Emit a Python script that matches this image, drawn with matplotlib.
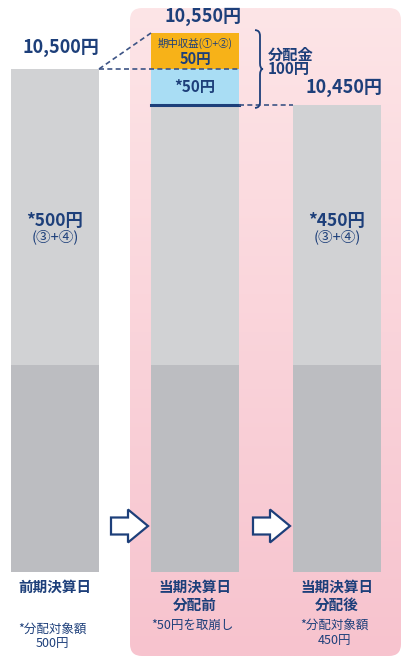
import numpy as np
import matplotlib
matplotlib.use("Agg")
import matplotlib.pyplot as plt
from matplotlib.patches import FancyBboxPatch, FancyArrow, PathPatch
from matplotlib.path import Path

plt.rcParams['font.family'] = ['Noto Sans CJK JP', 'DejaVu Sans']

# data
nav = [10500, 10550, 10450]          # 基準価額
nav_labels = ["10,500円", "10,550円", "10,450円"]
income = 50                           # 期中収益
drawdown = 50                         # 取崩し
distributable = [500, None, 450]
bottom_titles = ["前期決算日", "当期決算日\n分配前", "当期決算日\n分配後"]
bottom_notes = ["*分配対象額\n500円", "*50円を取崩し", "*分配対象額\n450円"]

navy = "#1d3f7a"
light_gray = "#d1d2d4"
dark_gray = "#bcbdc1"
orange = "#f7b218"
blue = "#a9ddf4"

W, H = 403, 657
fig = plt.figure(figsize=(W / 100, H / 100), dpi=100)

# background axes in pixel units
bg = fig.add_axes([0, 0, 1, 1])
bg.set_xlim(0, W)
bg.set_ylim(H, 0)
bg.axis("off")

box = FancyBboxPatch((136, 14), 259, 636, boxstyle="round,pad=6,rounding_size=12",
                     fc="none", ec="none")
bg.add_patch(box)
grad = np.linspace(0, 1, 256).reshape(-1, 1)
top_c = np.array([253, 229, 231]) / 255
bot_c = np.array([247, 195, 206]) / 255
img = top_c + (bot_c - top_c) * grad[..., None]
im = bg.imshow(img, extent=[130, 401, 656, 8], aspect="auto", zorder=0)
im.set_clip_path(box)

# main axes: x in pixels, y in yen
ax = fig.add_axes([0, 0, 1, 1], facecolor="none")
px_per_yen = 0.72
y_top = nav[1] + 33 / px_per_yen
y_bot = y_top - H / px_per_yen
ax.set_xlim(0, W)
ax.set_ylim(y_bot, y_top)
ax.axis("off")

xs = [55, 195, 337]
bw = 88
base = 9801
split = 10089

after = nav[1] - income - drawdown
gray_tops = [nav[0], after, nav[2]]
for x, t in zip(xs, gray_tops):
    ax.bar(x, split - base, bottom=base, width=bw, color=dark_gray, zorder=2)
    ax.bar(x, t - split, bottom=split, width=bw, color=light_gray, zorder=2)

# 分配前: 取崩し + 期中収益
ax.bar(xs[1], drawdown, bottom=after, width=bw, color=blue, zorder=2)
ax.bar(xs[1], income, bottom=after + drawdown, width=bw, color=orange, zorder=2)
ax.plot([xs[1] - bw / 2, xs[1] + bw / 2], [after, after], color=navy, lw=2.2, zorder=3)

# dashed guide lines
dash = dict(color="#3d5485", lw=1.2, ls=(0, (3, 2)), zorder=3)
ax.plot([xs[0] + bw / 2, xs[1] + bw / 2], [nav[0], nav[0]], **dash)
ax.plot([xs[0] + bw / 2, xs[1] - bw / 2], [nav[0], nav[1]], **dash)
ax.plot([xs[1] + bw / 2, xs[2] - bw / 2], [after, after], **dash)

# value labels
lab = dict(ha="center", va="center", fontsize=13, fontweight="bold", color=navy)
ax.text(xs[0] + 6, nav[0] + 30, nav_labels[0], **lab)
ax.text(xs[1] + 8, nav[1] + 23, nav_labels[1], **lab)
ax.text(xs[2] + 7, nav[2] + 24, nav_labels[2], **lab)

ax.text(xs[1], after + drawdown + income * 0.72, "期中収益(①+②)", ha="center",
        va="center", fontsize=7.5, color=navy)
ax.text(xs[1], after + drawdown + income * 0.27, f"{income}円", ha="center",
        va="center", fontsize=10.5, fontweight="bold", color=navy)
ax.text(xs[1], after + drawdown / 2, f"*{drawdown}円", ha="center",
        va="center", fontsize=11, fontweight="bold", color=navy)

for x, d in zip(xs, distributable):
    if d is None:
        continue
    ax.text(x, 10289, f"*{d}円", ha="center", va="center", fontsize=12.5,
            fontweight="bold", color=navy)
    ax.text(x, 10267, "(③+④)", ha="center", va="center", fontsize=10.5, color=navy)

# brace for 分配金
bx = 255
ytop_b, ybot_b = nav[1] + 4, after - 4
ymid = (ytop_b + ybot_b) / 2
r = 5
verts = [(bx, ytop_b), (bx + r, ytop_b), (bx + r, ytop_b - 8),
         (bx + r, ymid + 8), (bx + r, ymid), (bx + r + 3, ymid),
         (bx + r, ymid), (bx + r, ymid - 8),
         (bx + r, ybot_b + 8), (bx + r, ybot_b), (bx, ybot_b)]
codes = [Path.MOVETO, Path.CURVE3, Path.CURVE3,
         Path.LINETO, Path.CURVE3, Path.CURVE3,
         Path.CURVE3, Path.CURVE3,
         Path.LINETO, Path.CURVE3, Path.CURVE3]
ax.add_patch(PathPatch(Path(verts, codes), fc="none", ec=navy, lw=1.3, zorder=3))
ax.text(268, ymid + 10, f"分配金\n{income + drawdown}円", ha="left", va="center",
        fontsize=11, fontweight="bold", color=navy, linespacing=0.9)

# arrows between bars
for x0 in [111, 253]:
    bg.add_patch(FancyArrow(x0, 526, 37, 0, width=17, head_width=33, head_length=20,
                            length_includes_head=True, fc="white", ec=navy,
                            lw=1.6, zorder=4))

# bottom labels
for x, t, n, ny in zip(xs, bottom_titles, bottom_notes, [636, 625, 633]):
    bg.text(x, 579, t, ha="center", va="top", fontsize=10.5, fontweight="bold",
            color=navy, linespacing=1.15)
    bg.text(x - 3, ny, n, ha="center", va="center", fontsize=9, color=navy,
            linespacing=1.15)

fig.savefig("out.png", dpi=100)
